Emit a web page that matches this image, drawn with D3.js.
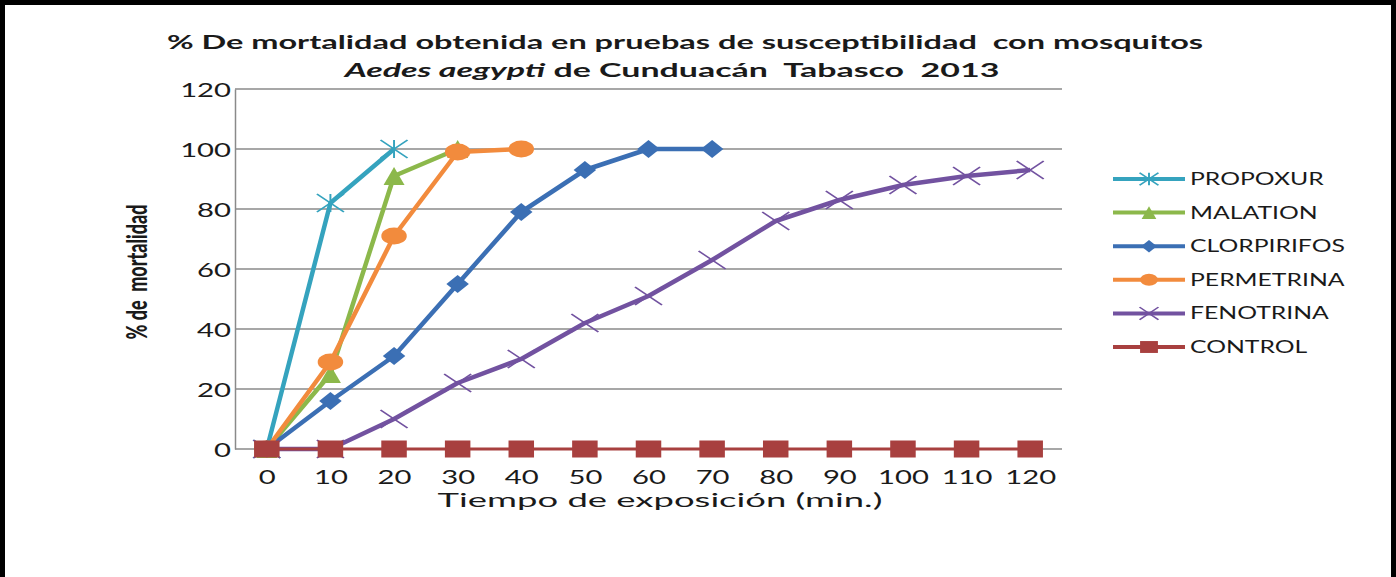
<!DOCTYPE html>
<html>
<head>
<meta charset="utf-8">
<script src="https://cdn.jsdelivr.net/npm/d3@7"></script>
<style>
  html, body { margin: 0; padding: 0; background: #fff; }
  svg { display: block; }
  text { font-family: Lato, "Open Sans", sans-serif; fill: #1a1a1a; white-space: pre; }
</style>
</head>
<body>
<svg id="chart" width="1396" height="577"></svg>
<script>
// Exposure times (min) and % mortality per insecticide
const categories = ["0", "10", "20", "30", "40", "50", "60", "70", "80", "90", "100", "110", "120"];
const yTicks = [0, 20, 40, 60, 80, 100, 120];

const propoxur    = [0, 82, 100];
const malation    = [0, 25, 91, 100];
const clorpirifos = [0, 16, 31, 55, 79, 93, 100, 100];
const permetrina  = [0, 29, 71, 99, 100];
const fenotrina   = [0, 0, 10, 22, 30, 42, 51, 63, 76, 83, 88, 91, 93];
const control     = [0, 0, 0, 0, 0, 0, 0, 0, 0, 0, 0, 0, 0];

const seriesNames  = ["PROPOXUR", "MALATION", "CLORPIRIFOS", "PERMETRINA", "FENOTRINA", "CONTROL"];
const seriesValues = [propoxur, malation, clorpirifos, permetrina, fenotrina, control];
const seriesColors = ["#35a3be", "#8cb84b", "#3b6fb4", "#f28b3d", "#7252a0", "#a8403f"];
const seriesMarkers = ["asterisk", "triangle", "diamond", "circle", "cross", "square"];
const seriesWidths = [4.5, 4.5, 4.5, 4.5, 4.5, 3];

const svg = d3.select("#chart");
const W = 1396, H = 577;
const SX = 1.5; // horizontal stretch of glyphs and markers

svg.append("rect").attr("width", W).attr("height", H).attr("fill", "#fff");

// frame
svg.append("path")
  .attr("d", `M2.5,${H} V2.5 H${W - 2.5} V${H}`)
  .attr("fill", "none").attr("stroke", "#000").attr("stroke-width", 5);

const plot = { left: 235, right: 1062, top: 89, bottom: 449 };

const x = d3.scalePoint().domain(categories).range([plot.left, plot.right]).padding(0.5);
const y = d3.scaleLinear().domain([0, 120]).range([plot.bottom, plot.top]);

// gridlines
svg.append("g")
  .selectAll("line").data(yTicks).join("line")
  .attr("x1", plot.left).attr("x2", plot.right)
  .attr("y1", d => y(d)).attr("y2", d => y(d))
  .attr("stroke", "#8a8a8a").attr("stroke-width", 1.5);

// y axis
const yAxis = svg.append("g")
  .attr("transform", `translate(${plot.left},0)`)
  .call(d3.axisLeft(y).tickValues(yTicks).tickSize(0).tickPadding(0));
yAxis.select(".domain").attr("stroke", "#8a8a8a").attr("stroke-width", 1.5);
yAxis.selectAll("text")
  .attr("font-family", "Lato").attr("font-size", 19.5).attr("fill", "#1a1a1a")
  .attr("x", -4 / SX).attr("dy", "0.36em")
  .attr("transform", `scale(${SX},1)`);

// x axis
const xAxis = svg.append("g")
  .attr("transform", `translate(0,${plot.bottom})`)
  .call(d3.axisBottom(x).tickSize(0).tickPadding(0));
xAxis.select(".domain").remove();
xAxis.selectAll("text")
  .attr("font-family", "Lato").attr("font-size", 19.5).attr("fill", "#1a1a1a")
  .attr("y", 35.5).attr("dy", 0)
  .attr("transform", `scale(${SX},1)`);

// stretched text helper: fits the text to a target width around its anchor
function label(parent, str, px, py, anchor, size, weight, width) {
  const g = parent.append("g");
  const t = g.append("text").attr("text-anchor", anchor)
    .attr("font-size", size).attr("font-weight", weight).text(str);
  const natural = t.node().getComputedTextLength();
  const k = width ? width / natural : SX;
  g.attr("transform", `translate(${px},${py}) scale(${k},1)`);
  return t;
}

// titles
label(svg, "% De mortalidad obtenida en pruebas de susceptibilidad  con mosquitos", 685, 49, "middle", 19.5, 700, 1037);
{
  const g = svg.append("g");
  const t = g.append("text").attr("text-anchor", "middle").attr("font-size", 19.5).attr("font-weight", 700);
  t.append("tspan").attr("font-style", "italic").text("Aedes aegypti");
  t.append("tspan").text(" de Cunduacán  Tabasco  2013");
  const natural = t.node().getComputedTextLength();
  g.attr("transform", `translate(672,77) scale(${655 / natural},1)`);
}

// axis titles
label(svg, "Tiempo de exposición (min.)", 660, 507, "middle", 20, 400, 445);
svg.append("text")
  .attr("transform", `translate(147,272) scale(${SX},1) rotate(-90)`)
  .attr("text-anchor", "middle").attr("font-size", 19).attr("font-weight", 900)
  .attr("textLength", 135).attr("lengthAdjust", "spacingAndGlyphs")
  .text("% de  mortalidad");

// marker shapes drawn at the origin, stretched horizontally afterwards
function drawMarker(sel, type, color, s) {
  const h = 9 * s;
  switch (type) {
    case "square":
      sel.append("rect").attr("x", -8.5 * s).attr("y", -8.5 * s)
        .attr("width", 17 * s).attr("height", 17 * s).attr("fill", color);
      break;
    case "circle":
      sel.append("circle").attr("r", 8.5 * s).attr("fill", color);
      break;
    case "diamond":
      sel.append("path").attr("d", `M0,${-h} L${7.5 * s},0 L0,${h} L${-7.5 * s},0Z`).attr("fill", color);
      break;
    case "triangle":
      sel.append("path").attr("d", `M0,${-h} L${7 * s},${h} L${-7 * s},${h}Z`).attr("fill", color);
      break;
    case "cross":
      sel.append("path").attr("d", `M${-h},${-h} L${h},${h} M${-h},${h} L${h},${-h}`)
        .attr("stroke", color).attr("stroke-width", 1.3).attr("fill", "none");
      break;
    case "asterisk":
      sel.append("path").attr("d", `M${-h},${-h} L${h},${h} M${-h},${h} L${h},${-h} M0,${-h} L0,${h}`)
        .attr("stroke", color).attr("stroke-width", 1.3).attr("fill", "none");
      break;
  }
}

// series
const line = d3.line().x((d, i) => x(categories[i])).y(d => y(d));
seriesValues.forEach((vals, si) => {
  const g = svg.append("g");
  g.append("path").datum(vals).attr("d", line)
    .attr("fill", "none").attr("stroke", seriesColors[si])
    .attr("stroke-width", seriesWidths[si]).attr("stroke-linejoin", "round");
  g.selectAll("g.m").data(vals).join("g").attr("class", "m")
    .attr("transform", (d, i) => `translate(${x(categories[i])},${y(d)}) scale(${SX},1)`)
    .each(function () { drawMarker(d3.select(this), seriesMarkers[si], seriesColors[si], 1); });
});

// legend
const legendRows = d3.scaleLinear().domain([0, seriesNames.length - 1]).range([179, 347]);
seriesNames.forEach((name, si) => {
  const ry = legendRows(si);
  const g = svg.append("g");
  g.append("line").attr("x1", 1113).attr("x2", 1185).attr("y1", ry).attr("y2", ry)
    .attr("stroke", seriesColors[si]).attr("stroke-width", 4);
  const m = g.append("g").attr("transform", `translate(1149,${ry}) scale(${SX},1)`);
  drawMarker(m, seriesMarkers[si], seriesColors[si], 0.7);
  label(g, name, 1190, ry + 6, "start", 16.5, 400, null);
});
</script>
</body>
</html>
